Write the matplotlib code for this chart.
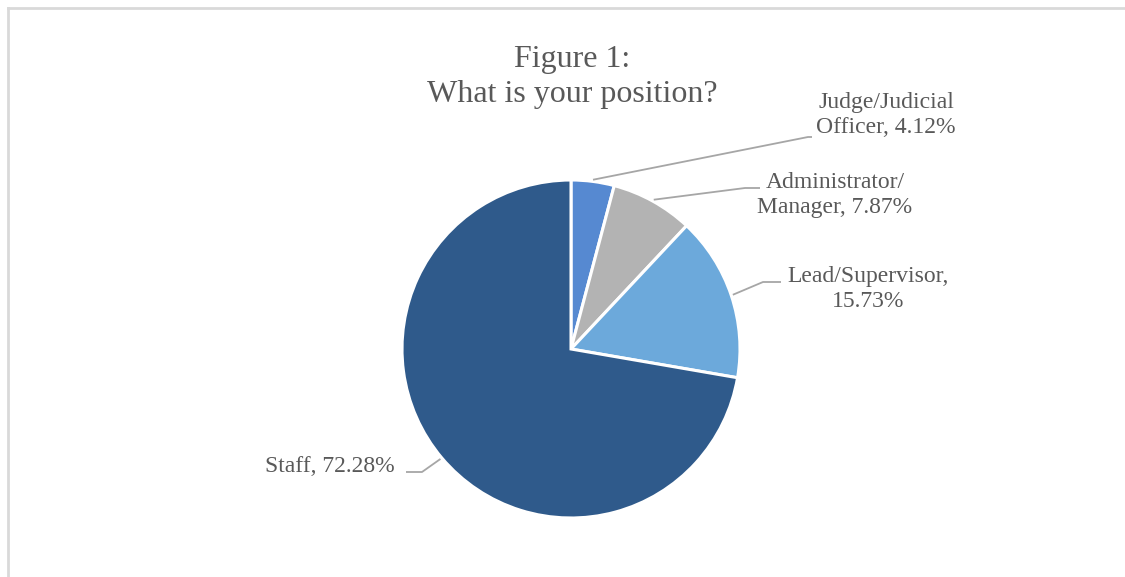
import numpy as np
import matplotlib
matplotlib.use("Agg")
import matplotlib.pyplot as plt

categories = ["Judge/Judicial Officer", "Administrator/Manager", "Lead/Supervisor", "Staff"]
values = [4.12, 7.87, 15.73, 72.28]
label_texts = ["Judge/Judicial\nOfficer, 4.12%", "Administrator/\nManager, 7.87%",
               "Lead/Supervisor,\n15.73%", "Staff, 72.28%"]
colors = ["#5689D1", "#B3B3B3", "#6CA9DB", "#2F5A8B"]

W, H = 1125, 577
fig = plt.figure(figsize=(W / 100, H / 100), dpi=100)
ax = fig.add_axes([0, 0, 1, 1])

cx, cy, R = 571, H - 349, 169
wedges, _ = ax.pie(values, colors=colors, startangle=90, counterclock=False,
                   center=(cx, cy), radius=R, frame=True,
                   wedgeprops=dict(edgecolor="white", linewidth=2.2))
ax.set_xlim(0, W)
ax.set_ylim(0, H)
ax.set_aspect("equal")
ax.axis("off")

txt_color = "#595959"
font = "Liberation Serif"

# label positions (pixel coords, y from top), elbow and end of leader line
label_pos = [(886, 115), (835, 195), (868, 289), (330, 466)]
elbows = [((808, 137), (812, 137)), ((745, 188), (760, 188)),
          ((763, 282), (781, 282)), ((422, 472), (406, 472))]

for w, lt, (lx, ly), (e1, e2) in zip(wedges, label_texts, label_pos, elbows):
    ang = np.deg2rad((w.theta1 + w.theta2) / 2)
    sx = cx + R * 1.01 * np.cos(ang)
    sy = cy + R * 1.01 * np.sin(ang)
    ax.plot([sx, e1[0], e2[0]], [sy, H - e1[1], H - e2[1]], color="#A6A6A6", lw=1.3,
            solid_capstyle="butt")
    ax.text(lx, H - ly, lt, ha="center", va="center", fontsize=17, family=font,
            color=txt_color, linespacing=1.2)

ax.text(572, H - 77, "Figure 1:\nWhat is your position?", ha="center", va="center",
        fontsize=23, family=font, color=txt_color, linespacing=1.25)

# chart area border (top and left visible)
ax.plot([8, 8], [0, H - 8], color="#D9D9D9", lw=2)
ax.plot([8, W], [H - 8, H - 8], color="#D9D9D9", lw=2)

fig.savefig("out.png", dpi=100)
